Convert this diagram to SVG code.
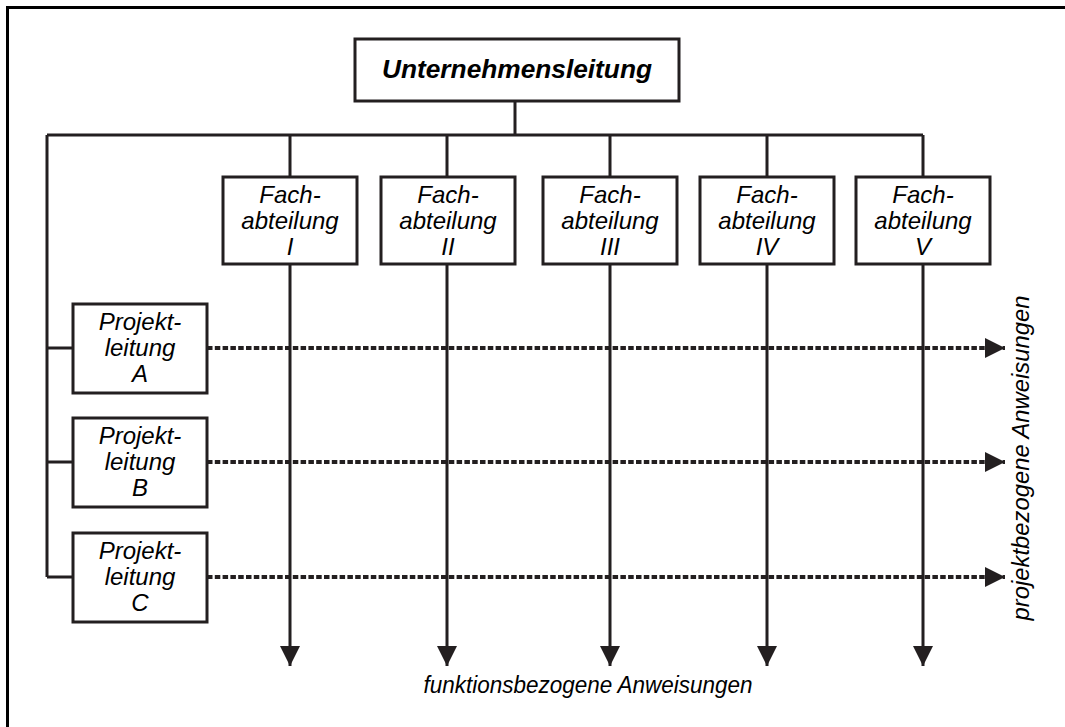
<svg xmlns="http://www.w3.org/2000/svg" width="1065" height="727" viewBox="0 0 1065 727">
  <style>
    .box { fill: #ffffff; stroke: #231f20; stroke-width: 3; }
    .line { fill: none; stroke: #231f20; stroke-width: 3; }
    .dash { fill: none; stroke: #231f20; stroke-width: 4; stroke-dasharray: 5.5 2.3; }
    .t { font-family: "Liberation Sans", Arial, sans-serif; font-style: italic; font-size: 24px; fill: #000; text-anchor: middle; }
    .head { font-weight: bold; font-size: 26px; }
  </style>
  <defs>
    <marker id="arrow" viewBox="0 0 20 20" refX="20" refY="10" markerWidth="20" markerHeight="20" markerUnits="userSpaceOnUse" orient="auto">
      <path d="M0,0 L20,10 L0,20 Z" fill="#231f20"/>
    </marker>
  </defs>
  <rect width="1065" height="727" fill="#ffffff"/>
  <!-- frame (top and left edges) -->
  <path d="M7.5,727 V7.5 H1065" fill="none" stroke="#000" stroke-width="3"/>

  <g id="connectors">
    <!-- management to departments -->
    <path class="line" d="M515,101 V135"/>
    <path class="line" d="M47,135 H923"/>
    <path class="line" d="M290,135 V177 M447,135 V177 M610,135 V177 M767,135 V177 M923,135 V177"/>
    <!-- project lines -->
    <path class="line" d="M47,135 V577"/>
    <path class="line" d="M47,348 H73 M47,462 H73 M47,577 H73"/>
    <!-- function-related instructions -->
    <path class="line" d="M290,264 V666" marker-end="url(#arrow)"/>
    <path class="line" d="M447,264 V666" marker-end="url(#arrow)"/>
    <path class="line" d="M610,264 V666" marker-end="url(#arrow)"/>
    <path class="line" d="M767,264 V666" marker-end="url(#arrow)"/>
    <path class="line" d="M923,264 V666" marker-end="url(#arrow)"/>
    <!-- project-related instructions -->
    <path class="dash" d="M207,348 H1005" marker-end="url(#arrow)"/>
    <path class="dash" d="M207,462 H1005" marker-end="url(#arrow)"/>
    <path class="dash" d="M207,577 H1005" marker-end="url(#arrow)"/>
  </g>

  <g id="unternehmensleitung">
    <rect class="box" x="355" y="39" width="324" height="62"/>
    <text class="t head" x="517" y="78" textLength="270" lengthAdjust="spacingAndGlyphs">Unternehmensleitung</text>
  </g>

  <g id="fach1">
    <rect class="box" x="223" y="177" width="134" height="87"/>
    <text class="t" x="290" y="203">Fach-</text>
    <text class="t" x="290" y="229">abteilung</text>
    <text class="t" x="290" y="255">I</text>
  </g>
  <g id="fach2">
    <rect class="box" x="381" y="177" width="134" height="87"/>
    <text class="t" x="448" y="203">Fach-</text>
    <text class="t" x="448" y="229">abteilung</text>
    <text class="t" x="448" y="255">II</text>
  </g>
  <g id="fach3">
    <rect class="box" x="543" y="177" width="134" height="87"/>
    <text class="t" x="610" y="203">Fach-</text>
    <text class="t" x="610" y="229">abteilung</text>
    <text class="t" x="610" y="255">III</text>
  </g>
  <g id="fach4">
    <rect class="box" x="700" y="177" width="134" height="87"/>
    <text class="t" x="767" y="203">Fach-</text>
    <text class="t" x="767" y="229">abteilung</text>
    <text class="t" x="767" y="255">IV</text>
  </g>
  <g id="fach5">
    <rect class="box" x="856" y="177" width="134" height="87"/>
    <text class="t" x="923" y="203">Fach-</text>
    <text class="t" x="923" y="229">abteilung</text>
    <text class="t" x="923" y="255">V</text>
  </g>

  <g id="projektA">
    <rect class="box" x="73" y="304" width="134" height="89"/>
    <text class="t" x="140" y="330">Projekt-</text>
    <text class="t" x="140" y="356">leitung</text>
    <text class="t" x="140" y="382">A</text>
  </g>
  <g id="projektB">
    <rect class="box" x="73" y="418" width="134" height="89"/>
    <text class="t" x="140" y="444">Projekt-</text>
    <text class="t" x="140" y="470">leitung</text>
    <text class="t" x="140" y="496">B</text>
  </g>
  <g id="projektC">
    <rect class="box" x="73" y="533" width="134" height="89"/>
    <text class="t" x="140" y="559">Projekt-</text>
    <text class="t" x="140" y="585">leitung</text>
    <text class="t" x="140" y="611">C</text>
  </g>

  <g id="labels">
    <text class="t" x="588" y="693" font-size="23" textLength="329" lengthAdjust="spacingAndGlyphs">funktionsbezogene Anweisungen</text>
    <text class="t" transform="translate(1029,458) rotate(-90)" x="0" y="0" font-size="23" textLength="325" lengthAdjust="spacingAndGlyphs">projektbezogene Anweisungen</text>
  </g>
</svg>
